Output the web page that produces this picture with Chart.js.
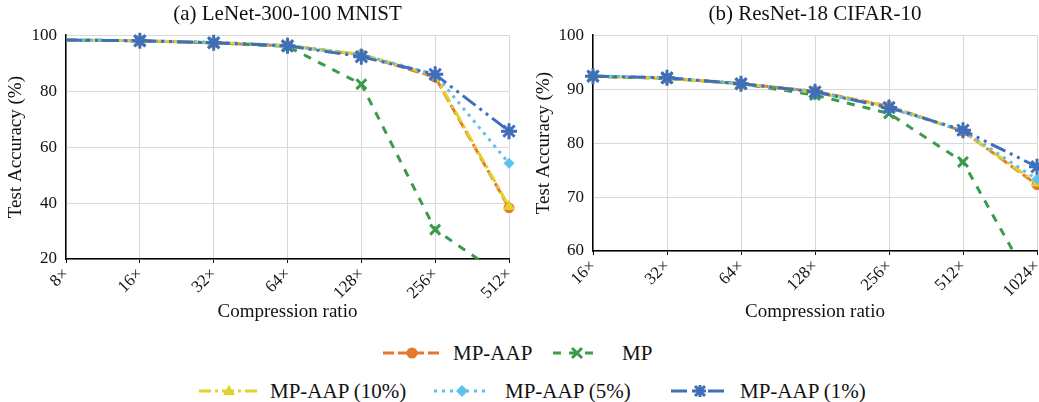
<!DOCTYPE html>
<html>
<head>
<meta charset="utf-8">
<script src="https://cdn.jsdelivr.net/npm/chart.js@4.4.1/dist/chart.umd.min.js"></script>
<style>
  html, body { margin: 0; padding: 0; background: #fff; }
  body { width: 1039px; height: 402px; position: relative; overflow: hidden; font-family: "Liberation Serif", "Times New Roman", serif; }
  .cv { position: absolute; top: 0; }
  .lg { position: absolute; display: flex; align-items: center; height: 30px; font-size: 21px; color: #111; white-space: nowrap; }
  .lg svg { display: block; }
</style>
</head>
<body>
<canvas id="left" class="cv" width="520" height="330" style="left:0px;width:520px;height:330px"></canvas>
<canvas id="right" class="cv" width="519" height="330" style="left:520px;width:519px;height:330px"></canvas>
<div id="legend"></div>
<script>
// ---------- data ----------
const seriesNames = ['MP-AAP', 'MP', 'MP-AAP (10%)', 'MP-AAP (5%)', 'MP-AAP (1%)'];

const lenetTitle = '(a) LeNet-300-100 MNIST';
const lenetCategories = ['8×', '16×', '32×', '64×', '128×', '256×', '512×'];
const lenetMPAAP  = [98.3, 98.0, 97.3, 96.2, 93.0, 85.0, 38.3];
const lenetMP     = [98.3, 98.0, 97.3, 96.0, 82.5, 30.5, 12.4];
const lenetAAP10  = [98.3, 98.0, 97.4, 96.3, 93.2, 85.5, 38.8];
const lenetAAP5   = [98.3, 98.0, 97.5, 96.3, 93.0, 86.0, 54.2];
const lenetAAP1   = [98.3, 98.0, 97.3, 96.2, 92.3, 86.0, 65.7];
const lenetYTicks = [20, 40, 60, 80, 100];

const resnetTitle = '(b) ResNet-18 CIFAR-10';
const resnetCategories = ['16×', '32×', '64×', '128×', '256×', '512×', '1024×'];
const resnetMPAAP = [92.4, 92.0, 91.0, 89.6, 86.8, 82.2, 72.3];
const resnetMP    = [92.4, 92.0, 91.0, 88.9, 85.5, 76.5, 52.1];
const resnetAAP10 = [92.4, 92.0, 91.0, 89.4, 86.8, 82.2, 72.6];
const resnetAAP5  = [92.5, 92.1, 91.1, 89.5, 86.5, 82.3, 73.3];
const resnetAAP1  = [92.4, 92.1, 91.0, 89.5, 86.6, 82.4, 75.6];
const resnetYTicks = [60, 70, 80, 90, 100];

const xAxisTitle = 'Compression ratio';
const yAxisTitle = 'Test Accuracy (%)';

// ---------- styles ----------
const FONT = '"Liberation Serif", "Times New Roman", serif';
const styles = [
  { color: '#E8772E', dash: [11, 4], point: 'circle', r: 5, order: 5 },
  { color: '#3B9B4C', dash: [8, 8], point: 'crossRot', r: 7, order: 4 },
  { color: '#E2D12A', dash: [12, 4, 3, 4], point: 'triangle', r: 6, order: 3 },
  { color: '#5DC1EE', dash: [3, 5], point: 'rectRot', r: 5, order: 2 },
  { color: '#3F6FBA', dash: [16, 5, 3, 5, 3, 5], point: 'star', r: 8, order: 1 }
];

function makeDatasets(values, hideFirstMarker) {
  return values.map((vals, i) => {
    const s = styles[i];
    const radii = vals.map((v, j) => (hideFirstMarker && j === 0) ? 0 : s.r);
    return {
      label: seriesNames[i],
      data: vals,
      borderColor: s.color,
      backgroundColor: s.color,
      borderWidth: 3,
      borderDash: s.dash,
      pointStyle: s.point,
      pointRadius: radii,
      pointBorderWidth: s.point === 'crossRot' || s.point === 'star' ? 3 : 1,
      pointBorderColor: s.color,
      pointBackgroundColor: s.color,
      tension: 0,
      order: s.order,
      clip: { left: 12, right: 12, top: 12, bottom: 0 }
    };
  });
}

function makeChart(id, title, categories, values, yTicks, opts) {
  const yMin = yTicks[0], yMax = yTicks[yTicks.length - 1];
  const step = yTicks[1] - yTicks[0];
  return new Chart(document.getElementById(id), {
    type: 'line',
    data: { labels: categories, datasets: makeDatasets(values, opts.hideFirst) },
    options: {
      responsive: false,
      animation: false,
      devicePixelRatio: 1,
      layout: { autoPadding: false, padding: { left: 0, right: opts.padRight, top: 0, bottom: 0 } },
      plugins: {
        legend: { display: false },
        tooltip: { enabled: false },
        title: {
          display: true, text: title, fullSize: false, color: '#111',
          font: { family: FONT, size: 21, weight: 'normal' },
          padding: { top: 2, bottom: 8 }
        }
      },
      scales: {
        x: {
          offset: false,
          grid: { color: '#D9D9D9', lineWidth: 1, drawTicks: true, tickLength: 4, tickColor: '#000' },
          border: { color: '#000', width: 1.5 },
          ticks: { color: '#111', font: { family: FONT, size: 17 }, minRotation: 45, maxRotation: 45, padding: 1, autoSkip: false },
          title: { display: true, text: xAxisTitle, color: '#111', font: { family: FONT, size: 19 }, padding: { top: 0, bottom: 7 } },
          afterFit: (s) => { s.height = opts.xHeight; s.paddingLeft = 0; s.paddingRight = 0; }
        },
        y: {
          min: yMin, max: yMax,
          grid: { color: '#D9D9D9', lineWidth: 1, drawTicks: false },
          border: { color: '#000', width: 1.5 },
          ticks: { stepSize: step, color: '#111', font: { family: FONT, size: 17 }, padding: 9 },
          title: { display: true, text: yAxisTitle, color: '#111', font: { family: FONT, size: 19 }, padding: { top: opts.yTitlePad, bottom: 0 } },
          afterFit: (s) => { s.width = opts.yWidth; s.paddingTop = 0; s.paddingBottom = 0; }
        }
      }
    }
  });
}

makeChart('left', lenetTitle, lenetCategories,
  [lenetMPAAP, lenetMP, lenetAAP10, lenetAAP5, lenetAAP1], lenetYTicks,
  { hideFirst: true, padRight: 11, xHeight: 71, yWidth: 66, yTitlePad: 5 });

makeChart('right', resnetTitle, resnetCategories,
  [resnetMPAAP, resnetMP, resnetAAP10, resnetAAP5, resnetAAP1], resnetYTicks,
  { hideFirst: false, padRight: 2, xHeight: 79, yWidth: 73, yTitlePad: 13 });

// ---------- legend (HTML) ----------
const legendPlacement = [
  { x: 383, y: 353, w: 58, textGap: 12 },
  { x: 553, y: 353, w: 48, textGap: 21 },
  { x: 199, y: 391, w: 60, textGap: 11 },
  { x: 434, y: 391, w: 56, textGap: 15 },
  { x: 671, y: 391, w: 58, textGap: 11 }
];
function markerSvg(s, cx, cy) {
  const c = s.color;
  switch (s.point) {
    case 'circle': return `<circle cx="${cx}" cy="${cy}" r="5.5" fill="${c}"/>`;
    case 'crossRot': return `<path d="M${cx-5} ${cy-5}L${cx+5} ${cy+5}M${cx+5} ${cy-5}L${cx-5} ${cy+5}" stroke="${c}" stroke-width="3"/>`;
    case 'triangle': return `<path d="M${cx} ${cy-6}L${cx+6} ${cy+4}L${cx-6} ${cy+4}Z" fill="${c}"/>`;
    case 'rectRot': return `<path d="M${cx} ${cy-6}L${cx+6} ${cy}L${cx} ${cy+6}L${cx-6} ${cy}Z" fill="${c}"/>`;
    case 'star': return `<path d="M${cx-6} ${cy}L${cx+6} ${cy}M${cx} ${cy-6}L${cx} ${cy+6}M${cx-5} ${cy-5}L${cx+5} ${cy+5}M${cx+5} ${cy-5}L${cx-5} ${cy+5}" stroke="${c}" stroke-width="3"/>`;
  }
  return '';
}
const legendEl = document.getElementById('legend');
seriesNames.forEach((name, i) => {
  const s = styles[i], p = legendPlacement[i];
  const div = document.createElement('div');
  div.className = 'lg';
  div.style.left = p.x + 'px';
  div.style.top = (p.y - 15) + 'px';
  const h = 30, cy = 15, cx = p.w / 2;
  div.innerHTML =
    `<svg width="${p.w}" height="${h}"><line x1="0" y1="${cy}" x2="${p.w}" y2="${cy}" stroke="${s.color}" stroke-width="3" stroke-dasharray="${s.dash.join(' ')}"/>${markerSvg(s, cx, cy)}</svg>` +
    `<span style="margin-left:${p.textGap}px">${name}</span>`;
  legendEl.appendChild(div);
});
</script>
</body>
</html>
